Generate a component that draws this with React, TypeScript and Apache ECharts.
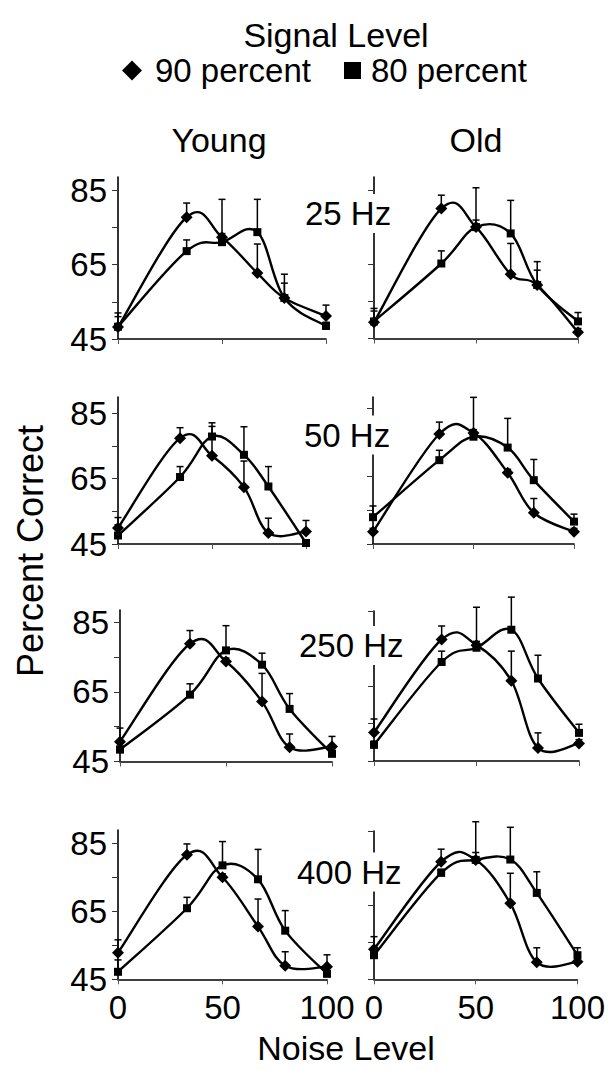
import React, { useEffect, useRef } from "react";
import * as echarts from "echarts";

const noiseLevels = [0, 33, 50, 67, 80, 100];
const yTickValues = [45, 55, 65, 75, 85];
const yLabelValues = [45, 65, 85];
const xTickValues = [0, 50, 100];
const frequencyLabels = ["25 Hz", "50 Hz", "250 Hz", "400 Hz"];
const groupLabels = ["Young", "Old"];
const seriesNames = ["90 percent", "80 percent"];

// Young
const young25_90 = [48.2, 77.7, 72.3, 62.7, 56.0, 51.2];
const young25_90Err = [3.8, 3.8, 1.0, 7.8, 4.0, 2.9];
const young25_80 = [48.3, 68.6, 71.0, 73.7, 56.0, 48.5];
const young25_80Err = [2.7, 3.0, 11.5, 8.8, 6.4, 1.0];

const young50_90 = [49.9, 77.4, 72.0, 62.4, 48.4, 48.8];
const young50_90Err = [3.2, 3.2, 9.0, 8.0, 4.5, 3.4];
const young50_80 = [47.6, 65.5, 77.9, 72.3, 62.6, 45.3];
const young50_80Err = [3.3, 3.2, 4.2, 8.6, 6.1, 0];

const young250_90 = [50.7, 78.8, 73.7, 62.2, 49.1, 49.3];
const young250_90Err = [3.9, 3.8, 1.0, 8.1, 3.8, 2.9];
const young250_80 = [48.4, 64.2, 76.9, 72.8, 60.1, 47.2];
const young250_80Err = [1.0, 3.1, 7.1, 3.3, 4.4, 1.0];

const young400_90 = [52.8, 81.6, 75.0, 60.5, 49.0, 48.7];
const young400_90Err = [3.8, 3.2, 1.0, 8.1, 4.1, 3.5];
const young400_80 = [47.2, 65.9, 78.5, 74.4, 59.3, 46.6];
const young400_80Err = [3.5, 3.2, 7.0, 8.8, 5.9, 1.0];

// Old
const old25_90 = [49.4, 80.0, 75.0, 62.3, 59.4, 46.7];
const old25_90Err = [3.0, 3.6, 1.9, 8.3, 4.0, 1.0];
const old25_80 = [49.6, 65.2, 75.0, 73.3, 59.4, 49.6];
const old25_80Err = [3.5, 3.4, 10.6, 8.9, 6.3, 2.4];

const old50_90 = [48.6, 77.4, 77.7, 66.0, 54.2, 48.6];
const old50_90Err = [1.0, 3.5, 1.0, 1.0, 4.2, 1.0];
const old50_80 = [52.9, 69.7, 76.6, 73.4, 63.8, 51.6];
const old50_80Err = [3.3, 2.9, 11.6, 8.6, 6.1, 2.2];

const old250_90 = [52.6, 77.4, 75.9, 66.4, 48.5, 49.7];
const old250_90Err = [3.6, 3.6, 1.0, 7.9, 4.0, 1.0];
const old250_80 = [49.3, 71.4, 75.2, 80.0, 67.0, 52.5];
const old250_80Err = [1.0, 2.9, 10.8, 8.7, 6.2, 2.3];

const old400_90 = [53.1, 76.7, 77.2, 65.5, 49.6, 49.7];
const old400_90Err = [3.4, 3.4, 2.0, 8.1, 3.9, 1.0];
const old400_80 = [51.5, 73.7, 77.2, 77.3, 68.3, 51.5];
const old400_80Err = [1.0, 1.0, 10.3, 8.7, 5.7, 2.0];

const panelData = [
  [young25_90, young25_90Err, young25_80, young25_80Err],
  [old25_90, old25_90Err, old25_80, old25_80Err],
  [young50_90, young50_90Err, young50_80, young50_80Err],
  [old50_90, old50_90Err, old50_80, old50_80Err],
  [young250_90, young250_90Err, young250_80, young250_80Err],
  [old250_90, old250_90Err, old250_80, old250_80Err],
  [young400_90, young400_90Err, young400_80, young400_80Err],
  [old400_90, old400_90Err, old400_80, old400_80Err],
];

// layout of each panel (pixels) and y-axis top
const panelLayout = [
  { left: 118, width: 208, top: 177, height: 162, max: 88.5 },
  { left: 374, width: 204, top: 177, height: 161.5, max: 88.5 },
  { left: 118, width: 188, top: 397, height: 147, max: 90 },
  { left: 373, width: 201, top: 397, height: 147, max: 88.3 },
  { left: 120, width: 212, top: 610, height: 151.5, max: 88.5 },
  { left: 374, width: 205, top: 611, height: 150, max: 85 },
  { left: 118, width: 209, top: 830, height: 149.3, max: 88.9 },
  { left: 374, width: 204, top: 831, height: 148.3, max: 85 },
];

const FONT = "'Liberation Sans', Arial, sans-serif";
const FS = 34;
const TICK_FS = 33;
const SMOOTH = 0.18;

function errorRender(params: any, api: any) {
  const x = api.value(0);
  const y = api.value(1);
  const e = api.value(2);
  if (!e) return { type: "group", children: [] };
  const p0 = api.coord([x, y]);
  const p1 = api.coord([x, y + e]);
  const st = { stroke: "#000", lineWidth: 1.5 };
  return {
    type: "group",
    children: [
      { type: "line", shape: { x1: p0[0], y1: p0[1], x2: p1[0], y2: p1[1] }, style: st },
      { type: "line", shape: { x1: p1[0] - 3.5, y1: p1[1], x2: p1[0] + 3.5, y2: p1[1] }, style: st },
    ],
  };
}

// smooth curve (Catmull-Rom style Bezier segments, like a spreadsheet "smoothed line")
function curveRender(values: number[]) {
  return (params: any, api: any) => {
    const i = params.dataIndex;
    const n = values.length;
    if (i >= n - 1) return { type: "group", children: [] };
    const pt = (k: number) => {
      const kk = Math.max(0, Math.min(n - 1, k));
      return api.coord([noiseLevels[kk], values[kk]]);
    };
    const p0 = pt(i - 1);
    const p1 = pt(i);
    const p2 = pt(i + 1);
    const p3 = pt(i + 2);
    return {
      type: "bezierCurve",
      shape: {
        x1: p1[0],
        y1: p1[1],
        x2: p2[0],
        y2: p2[1],
        cpx1: p1[0] + (p2[0] - p0[0]) * SMOOTH,
        cpy1: p1[1] + (p2[1] - p0[1]) * SMOOTH,
        cpx2: p2[0] - (p3[0] - p1[0]) * SMOOTH,
        cpy2: p2[1] - (p3[1] - p1[1]) * SMOOTH,
      },
      style: { stroke: "#000", lineWidth: 2.4, fill: "none" },
    };
  };
}

function buildOption() {
  const grid: any[] = [];
  const xAxis: any[] = [];
  const yAxis: any[] = [];
  const series: any[] = [];
  panelLayout.forEach((l, i) => {
    const isLeft = i % 2 === 0;
    const isBottom = i >= 6;
    grid.push({ left: l.left, top: l.top, width: l.width, height: l.height, containLabel: false });
    xAxis.push({
      type: "value",
      gridIndex: i,
      min: 0,
      max: 100,
      interval: 50,
      axisLine: { show: true, onZero: false, lineStyle: { color: "#000", width: 1.6 } },
      axisTick: { show: true, length: 5, customValues: xTickValues, lineStyle: { color: "#555", width: 1 } },
      axisLabel: {
        show: isBottom,
        customValues: xTickValues,
        margin: 12,
        fontSize: TICK_FS,
        fontFamily: FONT,
        color: "#000",
      },
      splitLine: { show: false },
    });
    yAxis.push({
      type: "value",
      gridIndex: i,
      min: 45,
      max: l.max,
      axisLine: { show: true, onZero: false, lineStyle: { color: "#000", width: 1.6 } },
      axisTick: { show: true, length: 6, customValues: yTickValues, lineStyle: { color: "#333", width: 1 } },
      axisLabel: {
        show: isLeft,
        customValues: yLabelValues,
        margin: 11,
        fontSize: TICK_FS,
        fontFamily: FONT,
        color: "#000",
      },
      splitLine: { show: false },
    });
    const [d90, e90, d80, e80] = panelData[i];
    const mk = (d: number[]) => noiseLevels.map((x, k) => [x, d[k]]);
    const mkErr = (d: number[], e: number[]) => noiseLevels.map((x, k) => [x, d[k], e[k]]);
    [
      [d90, e90],
      [d80, e80],
    ].forEach(([d, e]) => {
      series.push({
        type: "custom",
        xAxisIndex: i,
        yAxisIndex: i,
        renderItem: errorRender,
        encode: { x: 0, y: 1 },
        data: mkErr(d, e),
        z: 1,
      });
      series.push({
        type: "custom",
        xAxisIndex: i,
        yAxisIndex: i,
        renderItem: curveRender(d),
        encode: { x: 0, y: 1 },
        data: mk(d),
        z: 2,
      });
    });
    series.push({
      name: seriesNames[0],
      type: "scatter",
      xAxisIndex: i,
      yAxisIndex: i,
      data: mk(d90),
      symbol: "diamond",
      symbolSize: [12, 12],
      itemStyle: { color: "#000", opacity: 1 },
      z: 3,
    });
    series.push({
      name: seriesNames[1],
      type: "scatter",
      xAxisIndex: i,
      yAxisIndex: i,
      data: mk(d80),
      symbol: "rect",
      symbolSize: [8, 8],
      itemStyle: { color: "#000", opacity: 1 },
      z: 3,
    });
  });

  const txt = (text: string, x: number, y: number, extra: any = {}) => ({
    type: "text",
    x,
    y,
    z: 100,
    style: {
      text,
      fontSize: FS,
      fontFamily: FONT,
      fill: "#000",
      align: "center",
      verticalAlign: "middle",
      ...extra,
    },
  });

  const hzPos = [
    { x: 305, y: 213.5 },
    { x: 304, y: 435 },
    { x: 299, y: 645.5 },
    { x: 297, y: 872 },
  ];

  const graphic: any[] = [
    txt("Signal Level", 336, 35),
    txt(groupLabels[0], 219, 140),
    txt(groupLabels[1], 476, 140),
    txt("Noise Level", 346, 1048),
    { ...txt("Percent Correct", 30, 551, { fontSize: 36 }), rotation: Math.PI / 2 },
    ...frequencyLabels.map((f, k) =>
      txt(f, hzPos[k].x, hzPos[k].y, { align: "left", fontSize: 33, backgroundColor: "#fff", padding: [3, 0, 3, 0] })
    ),
  ];

  const legendBase = {
    top: 54,
    padding: 0,
    selectedMode: false,
    itemStyle: { color: "#000" },
  };

  return {
    animation: false,
    backgroundColor: "#fff",
    legend: [
      {
        ...legendBase,
        left: 122,
        itemWidth: 20,
        itemHeight: 20,
        textStyle: { fontSize: 33, fontFamily: FONT, color: "#000", padding: [0, 0, 0, 8] },
        data: [{ name: seriesNames[0], icon: "diamond" }],
      },
      {
        ...legendBase,
        left: 344,
        itemWidth: 17,
        itemHeight: 17,
        textStyle: { fontSize: 33, fontFamily: FONT, color: "#000", padding: [0, 0, 0, 5] },
        data: [{ name: seriesNames[1], icon: "rect" }],
      },
    ],
    grid,
    xAxis,
    yAxis,
    series,
    graphic,
  };
}

export default function App() {
  const ref = useRef<HTMLDivElement>(null);
  useEffect(() => {
    if (!ref.current) return;
    const chart = echarts.init(ref.current, undefined, { renderer: "svg" });
    chart.setOption(buildOption() as any);
    return () => chart.dispose();
  }, []);
  return (
    <div
      ref={ref}
      style={{ position: "absolute", left: 0, top: 0, width: 608, height: 1070, background: "#fff" }}
    />
  );
}
